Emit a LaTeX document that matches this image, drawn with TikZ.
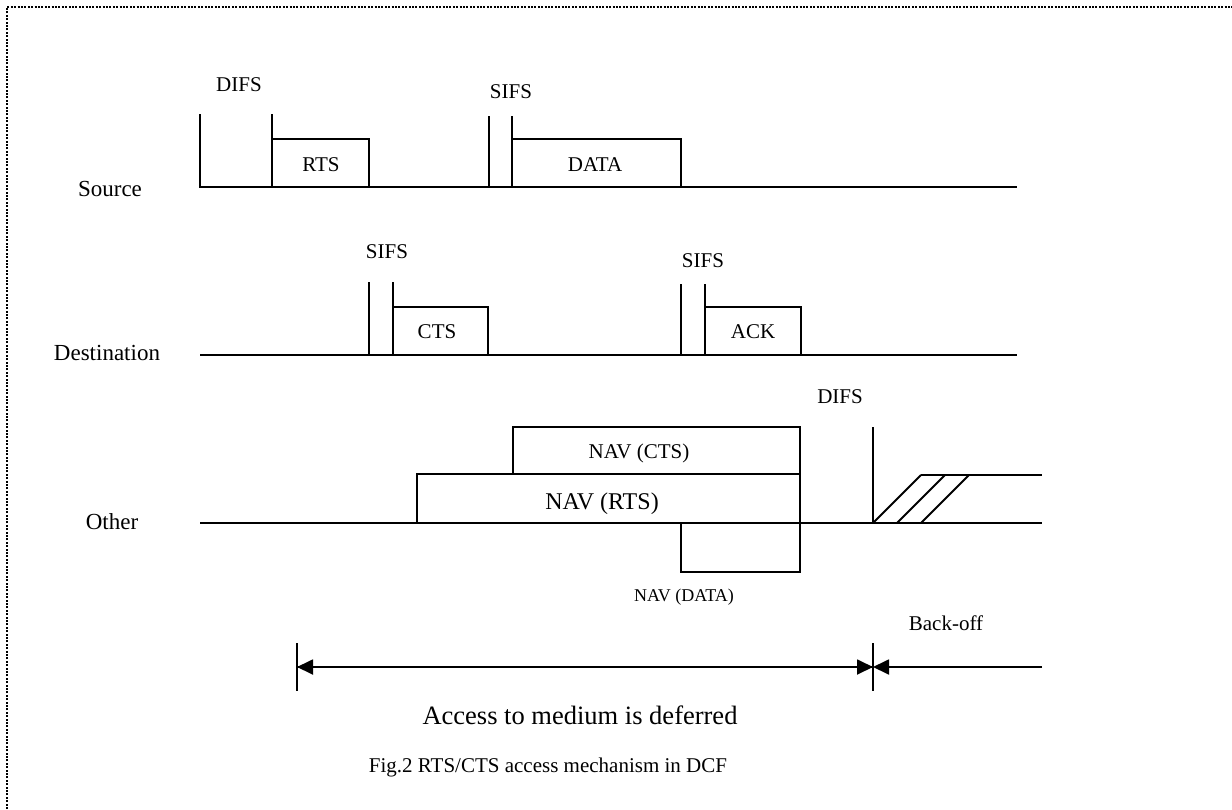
\documentclass[tikz,border=0pt]{standalone}
\usepackage{fontspec}
\setmainfont{Liberation Serif}
\usetikzlibrary{arrows.meta}
\begin{document}
\begin{tikzpicture}[x=1pt,y=-1pt,
  sig/.style={line width=1.8pt, line join=miter, line cap=butt},
  lbl/.style={anchor=base, inner sep=0pt, font=\fontsize{21}{25}\selectfont},
  biglbl/.style={lbl, font=\fontsize{23}{27}\selectfont},
  navlbl/.style={lbl, font=\fontsize{24}{28}\selectfont},
  smalllbl/.style={lbl, font=\fontsize{18}{22}\selectfont},
  deflbl/.style={lbl, font=\fontsize{26.5}{30}\selectfont},
  frame/.style={line width=2pt, dash pattern=on 2pt off 1.4pt},
  tick/.style={line width=1.8pt},
  dim/.style={line width=1.8pt, -{Triangle[length=16pt,width=15pt]}}]
\useasboundingbox (0,0) rectangle (1232,809);
% dotted frame (top and left edges)
\draw[frame] (7,809) -- (7,7) -- (1232,7);

% ---------- Source ----------
\draw[sig] (200,114) -- (200,187) -- (1017,187);
\draw[sig] (272,114) -- (272,187);
\draw[sig] (272,139) -- (369,139) -- (369,187);
\draw[sig] (489,116) -- (489,187);
\draw[sig] (512,116) -- (512,187);
\draw[sig] (512,139) -- (681,139) -- (681,187);
\node[biglbl] (src) at (110,196) {Source};
\node[lbl] (difs1) at (239,91) {DIFS};
\node[lbl] (sifs1) at (511,98) {SIFS};
\node[lbl] (rts) at (321,171) {RTS};
\node[lbl] (data) at (595,171) {DATA};

% ---------- Destination ----------
\draw[sig] (200,355) -- (1017,355);
\draw[sig] (369,282) -- (369,355);
\draw[sig] (393,282) -- (393,355);
\draw[sig] (393,307) -- (488,307) -- (488,355);
\draw[sig] (681,284) -- (681,355);
\draw[sig] (705,284) -- (705,355);
\draw[sig] (705,307) -- (801,307) -- (801,355);
\node[biglbl] (dst) at (107,360) {Destination};
\node[lbl] (sifs2) at (387,258) {SIFS};
\node[lbl] (sifs3) at (703,267) {SIFS};
\node[lbl] (cts) at (437,338) {CTS};
\node[lbl] (ack) at (753,338) {ACK};

% ---------- Other ----------
\draw[sig] (200,523) -- (1042,523);
\draw[sig] (513,474) -- (513,427) -- (800,427) -- (800,474);
\draw[sig] (417,523) -- (417,474) -- (800,474) -- (800,523);
\draw[sig] (681,523) -- (681,572) -- (800,572) -- (800,523);
\draw[sig] (873,427) -- (873,523);
\draw[sig] (873,523) -- (921,475);
\draw[sig] (897,523) -- (945,475);
\draw[sig] (921,523) -- (969,475);
\draw[sig] (921,475) -- (1042,475);
\node[biglbl] (oth) at (112,529) {Other};
\node[lbl] (navcts) at (639,458) {NAV (CTS)};
\node[navlbl] (navrts) at (602,509) {NAV (RTS)};
\node[smalllbl] (navdata) at (684,601) {NAV (DATA)};
\node[lbl] (difs2) at (840,403) {DIFS};

% ---------- deferral / back-off ----------
\coordinate (lt) at (297,643);
\coordinate (lb) at (297,691);
\coordinate (mt) at (873,643);
\coordinate (mb) at (873,691);
\coordinate (al) at (297,667);
\coordinate (am) at (873,667);
\coordinate (ar) at (1042,667);
\draw[tick] (lt) -- (lb);
\draw[tick] (mt) -- (mb);
\draw[dim] (am) -- (al);
\draw[dim] (al) -- (am);
\draw[dim] (ar) -- (am);
\node[lbl] (backoff) at (946,630) {Back-off};
\node[deflbl] (defer) at (580,724) {Access to medium is deferred};
\node[lbl] (cap) at (548,772) {Fig.2 RTS/CTS access mechanism in DCF};
\end{tikzpicture}
\end{document}
